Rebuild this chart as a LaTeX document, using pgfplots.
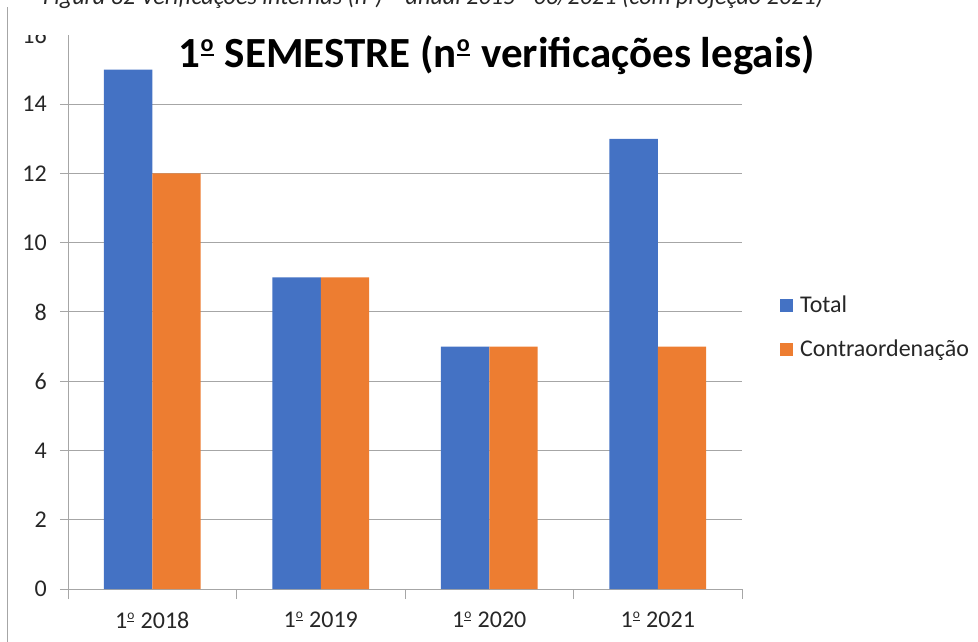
\documentclass[border=0pt]{standalone}
\usepackage{fontspec}
\setmainfont{Carlito}
\newcommand{\ordm}{\raisebox{0.27em}{\fontsize{0.56em}{0.6em}\selectfont\setbox0\hbox{o}\vbox{\copy0\kern0.1em\hrule height 0.1em width \wd0}}\kern0.04em}
\usepackage{pgfplots}
\pgfplotsset{compat=1.18}
\definecolor{xlblue}{HTML}{4472C4}
\definecolor{xlorange}{HTML}{ED7D31}
\definecolor{gridgray}{HTML}{A6A6A6}
\definecolor{txtgray}{HTML}{262626}
\begin{document}
\begin{tikzpicture}
\path[use as bounding box] (0,0) rectangle (978bp,642bp);
\clip (0,0) rectangle (978bp,642bp);
\begin{axis}[
  at={(68bp,53bp)}, anchor=south west,
  scale only axis, width=674bp, height=554bp,
  xmin=-0.5, xmax=3.5, ymin=0, ymax=16,
  ybar=0pt, bar width=48.3bp,
  axis lines=left,
  axis line style={-, draw=gridgray, line width=1pt},
  xtick={0,1,2,3},
  xticklabels={1\ordm\ 2018,1\ordm\ 2019,1\ordm\ 2020,1\ordm\ 2021},
  minor xtick={-0.5,0.5,1.5,2.5,3.5},
  ytick={0,2,...,16},
  ymajorgrids,
  major grid style={draw=gridgray, line width=1pt},
  tick align=outside,
  major tick length=8bp,
  minor tick length=10bp,
  every major x tick/.append style={draw=none},
  every minor x tick/.append style={draw=gridgray, line width=1pt},
  every major y tick/.append style={draw=gridgray, line width=1pt},
  /pgf/number format/assume math mode=true,
  tick label style={font=\fontsize{24bp}{28bp}\selectfont, text=txtgray},
  yticklabel style={inner sep=0pt, anchor=east, xshift=-13bp},
  xticklabel style={inner sep=0pt, anchor=north, yshift=-15bp},
  legend style={draw=none, fill=none, at={(1,0.4685)}, anchor=west, xshift=38bp,
    inner sep=0pt, row sep=24bp, column sep=7bp,
    font=\fontsize{24bp}{28bp}\selectfont, text=txtgray,
    nodes={inner sep=0pt, text height=15bp, text depth=5bp, anchor=base west}},
  legend image code/.code={\fill[#1] (0bp,0.5bp) rectangle (13bp,13.5bp);},
  legend cell align=left,
  clip=false,
]
\addplot[fill=xlblue, draw=none] coordinates {(0,15) (1,9) (2,7) (3,13)};
\addplot[fill=xlorange, draw=none] coordinates {(0,12) (1,9) (2,7) (3,7)};
\legend{Total, Contraordenação}
\end{axis}
\fill[white] (10bp,606.5bp) rectangle (978bp,642bp);
\draw[gridgray, line width=1pt] (7.5bp,0) -- (7.5bp,635bp);
\node[anchor=base west, inner sep=0pt, text=txtgray] at (43bp,637bp)
  {\resizebox{780bp}{!}{\itshape Figura 32 Verificações internas (n\ordm) – anual 2015 - 06/2021 (com projeção 2021)}};
\node[anchor=base, inner sep=0pt, font=\fontsize{43bp}{48bp}\selectfont\bfseries] at (497bp,574bp)
  {1\ordm\ SEMESTRE (n\ordm\ verificações legais)};
\end{tikzpicture}
\end{document}
